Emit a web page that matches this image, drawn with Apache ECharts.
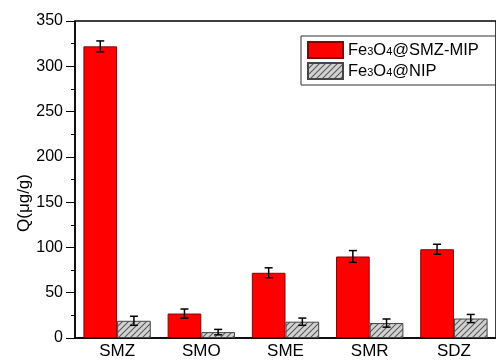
<!DOCTYPE html>
<html><head><meta charset="utf-8">
<script src="https://cdn.jsdelivr.net/npm/echarts@6/dist/echarts.min.js"></script>
<style>html,body{margin:0;padding:0;background:#fff}#c{width:496px;height:362px}</style>
</head><body><div id="c"></div>
<script>
const categories = ['SMZ','SMO','SME','SMR','SDZ'];
const mipValues = [322, 27, 72, 90, 98];
const mipErrors = [6, 5, 5.5, 6.5, 5.5];
const nipValues = [19, 6.5, 18, 16.5, 21.5];
const nipErrors = [5, 3, 4, 4.5, 4.5];
const yTicks = [0, 50, 100, 150, 200, 250, 300, 350];
const yName = 'Q(μg/g)';

function makeHatch(){
  const c = document.createElement('canvas');
  c.width = 6; c.height = 6;
  const g = c.getContext('2d');
  g.fillStyle = '#d2d2d2'; g.fillRect(0,0,6,6);
  g.strokeStyle = '#5a5a5a'; g.lineWidth = 1.1;
  g.beginPath();
  g.moveTo(-1,7); g.lineTo(7,-1);
  g.moveTo(-4,4); g.lineTo(4,-4);
  g.moveTo(2,10); g.lineTo(10,2);
  g.stroke();
  return c;
}
const hatch = {image: makeHatch(), repeat: 'repeat'};

function errSeries(vals, errs, side){
  return {
    type: 'custom',
    silent: true,
    z: 10,
    data: vals.map((v,i)=>[i, v, errs[i]]),
    renderItem: function(params, api){
      const i = api.value(0), v = api.value(1), e = api.value(2);
      const band = api.size([1,0])[0];
      const off = side * band * 0.2;
      const top = api.coord([i, v+e]);
      const bot = api.coord([i, v-e]);
      const x = top[0] + off;
      const cw = 4;
      const st = {stroke:'#000', lineWidth:1.5};
      return {type:'group', children:[
        {type:'line', shape:{x1:x,y1:top[1],x2:x,y2:bot[1]}, style:st},
        {type:'line', shape:{x1:x-cw,y1:top[1],x2:x+cw,y2:top[1]}, style:st},
        {type:'line', shape:{x1:x-cw,y1:bot[1],x2:x+cw,y2:bot[1]}, style:st}
      ]};
    }
  };
}

const FF = 'Liberation Sans, Arial, sans-serif';
const chart = echarts.init(document.getElementById('c'));
chart.setOption({
  animation: false,
  textStyle: {fontFamily: FF},
  grid: {left: 75, top: 21, bottom: 24, right: -11, show: true, borderColor: '#000', borderWidth: 1.5},
  graphic: [{
    type: 'text', x: 24, y: 203, rotation: Math.PI / 2,
    style: {text: yName, fill: '#000', font: '17px ' + FF, align: 'center', verticalAlign: 'middle'}
  }],
  legend: {
    left: 301, top: 36, orient: 'vertical', icon: 'rect',
    itemWidth: 35, itemHeight: 16, itemGap: 3,
    padding: [5, 60, 5, 6],
    borderColor: '#333', borderWidth: 1,
    data: ['Fe3O4@SMZ-MIP', 'Fe3O4@NIP'],
    formatter: function(n){
      return ('{t|' + n.replace(/(\d)/g, '}{s|$1}{t|') + '}');
    },
    textStyle: {
      rich: {
        t: {fontSize: 16.5, color: '#000', fontFamily: FF},
        s: {fontSize: 11, color: '#000', fontFamily: FF, padding: [3,0,0,0]}
      }
    }
  },
  xAxis: {
    type: 'category', data: categories,
    axisLine: {lineStyle: {color: '#000', width: 1.5}},
    axisTick: {show: false},
    axisLabel: {color: '#000', fontSize: 17, margin: 5}
  },
  yAxis: {
    type: 'value', min: 0, max: 350, interval: 50,
    axisLine: {show: true, lineStyle: {color: '#000', width: 1.5}},
    axisTick: {show: true, inside: false, length: 9, lineStyle: {color: '#000'}},
    minorTick: {show: true, splitNumber: 2, length: 4, lineStyle: {color: '#000'}},
    splitLine: {show: false},
    axisLabel: {color: '#000', fontSize: 16, margin: 12,
      formatter: v => yTicks.includes(v) ? String(v) : ''}
  },
  series: [
    {name: 'Fe3O4@SMZ-MIP', type: 'bar', data: mipValues, barGap: '0%', barCategoryGap: '20%',
     itemStyle: {color: '#ff0000', borderColor: '#8a0000', borderWidth: 1}},
    {name: 'Fe3O4@NIP', type: 'bar', data: nipValues,
     itemStyle: {color: hatch, borderColor: '#444', borderWidth: 1}},
    errSeries(mipValues, mipErrors, -1),
    errSeries(nipValues, nipErrors, 1)
  ]
});
</script></body></html>
